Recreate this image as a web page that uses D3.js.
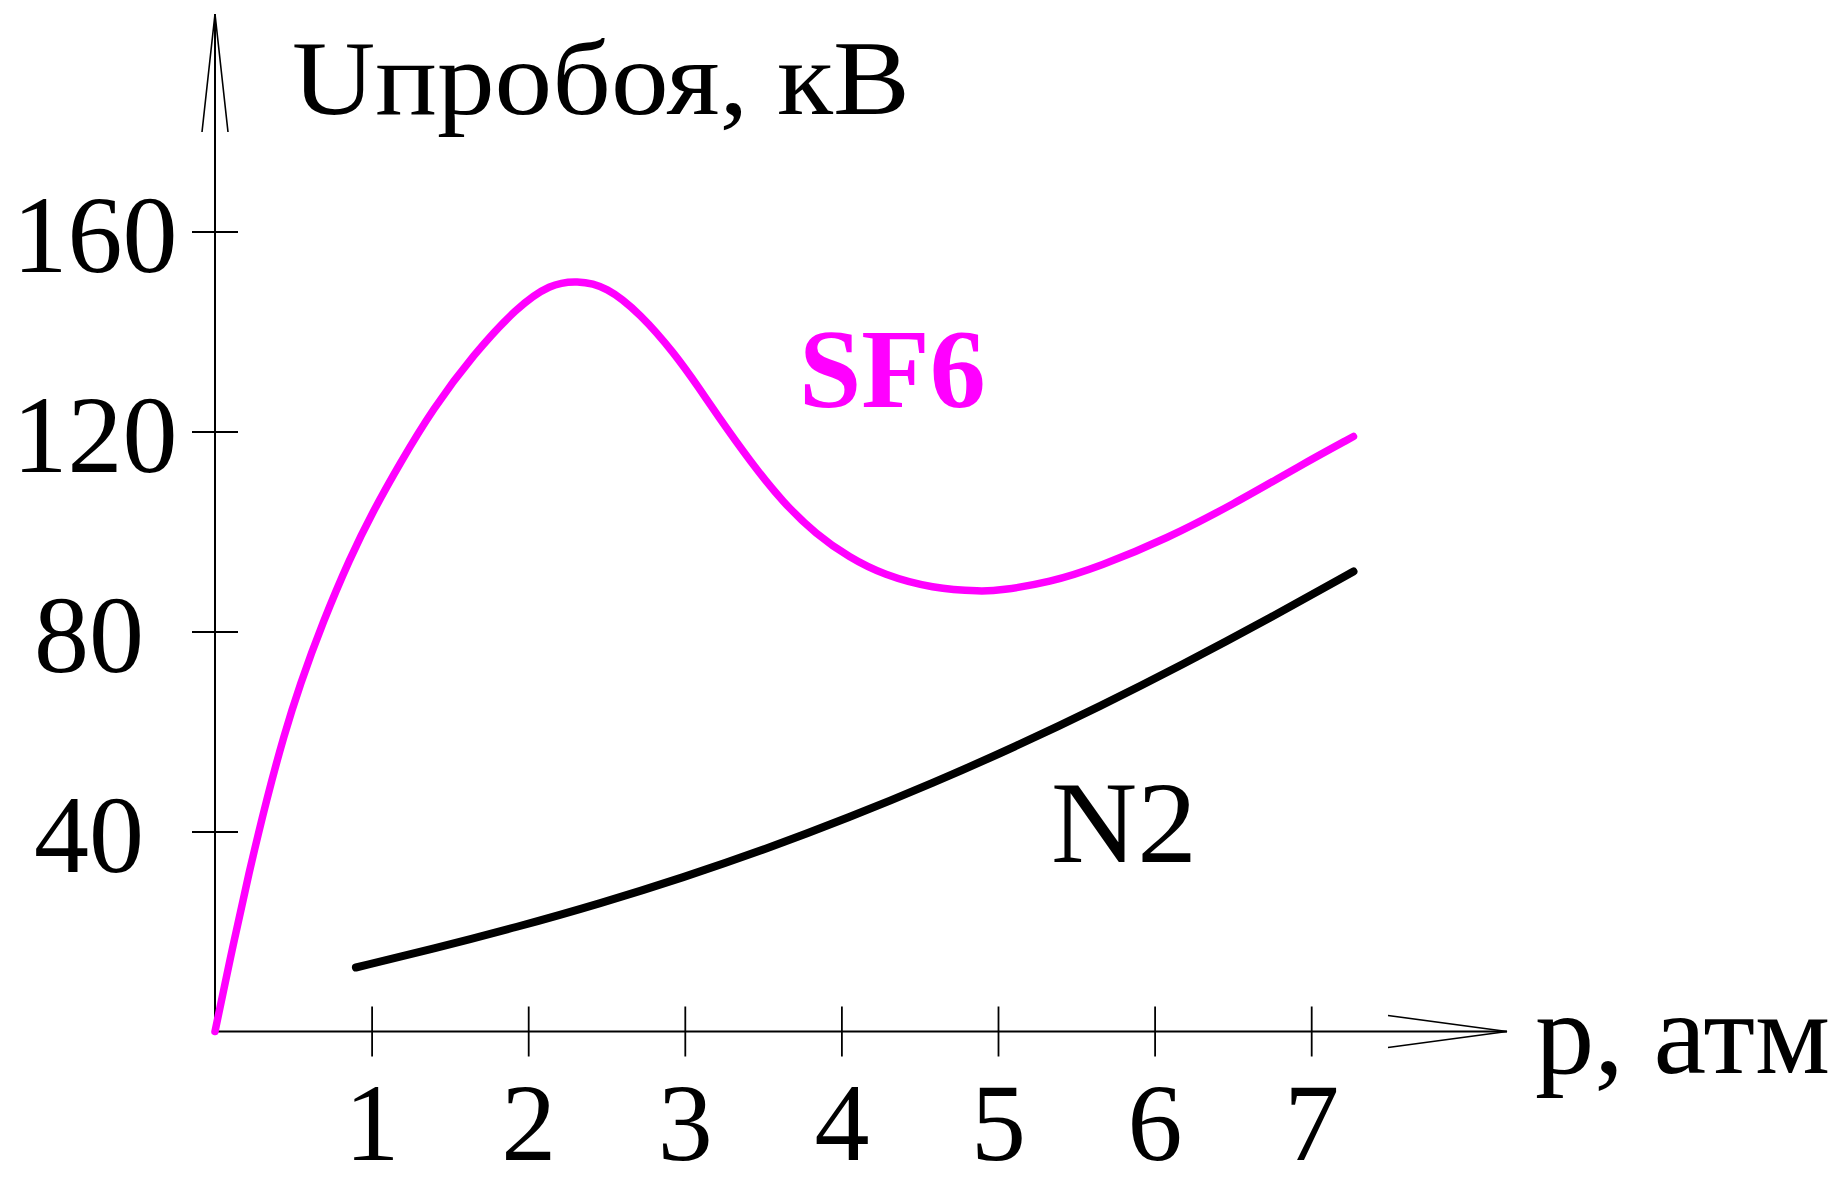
<!DOCTYPE html>
<html>
<head>
<meta charset="utf-8">
<script src="https://cdn.jsdelivr.net/npm/d3@7"></script>
<style>
  html, body { margin: 0; padding: 0; background: #fff; }
  svg { display: block; }
  text { font-family: "Liberation Serif", "Times New Roman", serif; }
</style>
</head>
<body>
<svg id="chart" width="1845" height="1184"></svg>
<script>
// Breakdown voltage vs. gas pressure
const xTicks = [1, 2, 3, 4, 5, 6, 7];
const yTicks = [40, 80, 120, 160];

// SF6 curve: pressure (atm) and breakdown voltage (kV)
const sf6P = [0, 0.12, 0.22, 0.33, 0.44, 0.54, 0.69, 0.86, 1.01, 1.18, 1.39, 1.65, 1.93, 2.14, 2.31, 2.5, 2.72, 2.93, 3.1, 3.2, 3.42, 3.63, 3.84, 4.05, 4.27, 4.58, 4.9, 5.01, 5.33, 5.65, 6.08, 6.5, 6.93, 7.27];
const sf6U = [0, 18, 32.2, 46.5, 59.2, 69.2, 82, 94.6, 104.1, 113.6, 124.5, 135.4, 144.9, 149.5, 150.2, 149.1, 143.4, 135.8, 128.3, 123.6, 113.9, 105.7, 99.4, 94.8, 91.3, 88.6, 88.0, 88.2, 89.8, 93.0, 98.6, 105.4, 113.2, 119.0];

// N2 curve
const n2P = [0.9, 1.39, 1.93, 2.46, 2.99, 3.52, 4.05, 4.58, 5.12, 5.65, 6.18, 6.72, 7.27];
const n2U = [12.8, 16.5, 20.9, 25.6, 30.8, 36.5, 42.8, 49.6, 57.1, 65.0, 73.4, 82.4, 92.0];

const yTitle = "Uпробоя, кВ";
const xTitle = "p, атм";
const sf6Name = "SF6";
const n2Name = "N2";

const svg = d3.select("#chart");

const x = d3.scaleLinear().domain([0, 7]).range([215, 1311.2]);
const y = d3.scaleLinear().domain([0, 160]).range([1031.5, 231.5]);

const x0 = x(0), y0 = y(0);

// Axis lines with open arrowheads
const axes = svg.append("g").attr("stroke", "#000").attr("fill", "none").attr("stroke-width", 2);
axes.append("line").attr("x1", x0).attr("y1", y0).attr("x2", x0).attr("y2", 14);
axes.append("path").attr("d", `M${x0 - 13},132 L${x0},14 L${x0 + 13},132`).attr("stroke-width", 1.6);
axes.append("line").attr("x1", x0).attr("y1", y0).attr("x2", 1507).attr("y2", y0);
axes.append("path").attr("d", `M1388,${y0 - 16} L1507,${y0} L1388,${y0 + 16}`).attr("stroke-width", 1.6);

// X axis ticks and labels
const gx = svg.append("g")
  .attr("transform", `translate(0,${y0})`)
  .call(d3.axisBottom(x).tickValues(xTicks).tickSizeOuter(0).tickFormat(d3.format("d")));
gx.select(".domain").remove();
gx.selectAll(".tick line").attr("y1", -25).attr("y2", 25).attr("stroke", "#000").attr("stroke-width", 1.8);
gx.selectAll(".tick text")
  .attr("y", 128).attr("dy", 0)
  .attr("fill", "#000")
  .style("font-family", "'Liberation Serif', serif")
  .style("font-size", "110px");

// Y axis ticks and labels
const gy = svg.append("g")
  .attr("transform", `translate(${x0},0)`)
  .call(d3.axisLeft(y).tickValues(yTicks).tickSizeOuter(0).tickFormat(d3.format("d")));
gy.select(".domain").remove();
gy.selectAll(".tick line").attr("x1", -23).attr("x2", 23).attr("stroke", "#000").attr("stroke-width", 1.8);
gy.selectAll(".tick text")
  .attr("x", d => d >= 100 ? -120 : -126)
  .attr("dy", 0).attr("y", 40)
  .attr("text-anchor", "middle")
  .attr("fill", "#000")
  .style("font-family", "'Liberation Serif', serif")
  .style("font-size", "110px");

// Curves
const line = d3.line().x(d => x(d[0])).y(d => y(d[1])).curve(d3.curveBasis);

svg.append("path")
  .datum(n2P.map((p, i) => [p, n2U[i]]))
  .attr("d", line)
  .attr("fill", "none").attr("stroke", "#000").attr("stroke-width", 8).attr("stroke-linecap", "round");

svg.append("path")
  .datum(sf6P.map((p, i) => [p, sf6U[i]]))
  .attr("d", line)
  .attr("fill", "none").attr("stroke", "#ff00ff").attr("stroke-width", 7.5).attr("stroke-linecap", "round");

// Titles and series labels
svg.append("text").attr("x", 292).attr("y", 114).attr("font-size", 106)
  .attr("textLength", 618).attr("lengthAdjust", "spacingAndGlyphs")
  .attr("fill", "#000").text(yTitle);
svg.append("text").attr("x", 1535).attr("y", 1073).attr("font-size", 116)
  .attr("textLength", 295).attr("lengthAdjust", "spacingAndGlyphs")
  .attr("fill", "#000").text(xTitle);
svg.append("text").attr("x", 799).attr("y", 407).attr("font-size", 112).attr("font-weight", "bold")
  .attr("fill", "#ff00ff").text(sf6Name);
svg.append("text").attr("x", 1051).attr("y", 862).attr("font-size", 116)
  .attr("textLength", 146).attr("lengthAdjust", "spacingAndGlyphs")
  .attr("fill", "#000").text(n2Name);
</script>
</body>
</html>
